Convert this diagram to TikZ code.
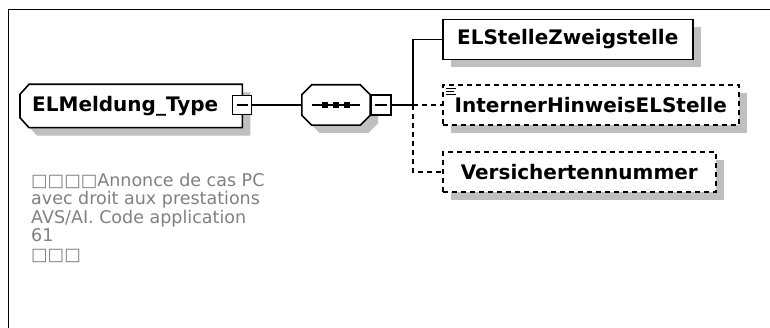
\documentclass[tikz,border=0pt]{standalone}
\usepackage{fontspec}
\setmainfont{DejaVu Sans}
\usetikzlibrary{shadows,positioning,backgrounds}

\tikzset{
    shade8/.style={drop shadow={shadow xshift=8pt, shadow yshift=-8pt, fill=black!25, opacity=1}},
    boxline/.style={draw, line width=1.6pt, fill=white, shade8},
    elem/.style={boxline, inner sep=0pt, minimum height=40pt,
        font=\bfseries\fontsize{20}{22}\selectfont},
    optelem/.style={elem, dash pattern=on 5pt off 4pt},
    minusbox/.style={draw, line width=1.3pt, fill=white, inner sep=0pt, minimum size=#1,
        path picture={\draw[line width=1.3pt] ([xshift=4pt]path picture bounding box.west)
            -- ([xshift=-4pt]path picture bounding box.east);}},
    conn/.style={line width=1.4pt},
    optconn/.style={conn, dash pattern=on 5pt off 4pt},
    desc/.style={text=black!50, align=left, inner sep=0pt,
        font=\fontsize{17.5}{18.5}\selectfont}
}

\begin{document}
\begin{tikzpicture}[x=1pt, y=-1pt]

    \useasboundingbox (0,0) rectangle (770,328);

    % Rahmen
    \draw[line width=1.5pt] (8.5,328) -- (8.5,9.5) -- (770,9.5);

    % Typ
    \node[anchor=west, minimum height=43pt, text width=198pt, inner xsep=12pt, inner ysep=0pt,
        align=left, font=\bfseries\fontsize{20}{22}\selectfont]
        (type) at (20,106) {ELMeldung\_Type};
    \node[minusbox=19pt] (typeminus) at (242,105) {};

    % Sequenz
    \node[minimum width=68pt, minimum height=40pt, inner sep=0pt] (seq) at (336,105) {};
    \draw[line width=1.3pt] ([xshift=-24pt]seq.center) -- ([xshift=24pt]seq.center);
    \foreach \dx in {-11,0,11} {
        \fill ([xshift=\dx pt]seq.center) +(-3pt,-3pt) rectangle +(3pt,3pt);
    }
    \node[minusbox=20pt, anchor=west] (seqminus) at (seq.east) {};

    \begin{scope}[on background layer]
        \draw[boxline] ([yshift=-10pt]type.north west) -- ([xshift=9pt]type.north west)
            -- (type.north east) -- (type.south east) -- ([xshift=9pt]type.south west)
            -- ([yshift=10pt]type.south west) -- cycle;
        \draw[boxline] ([yshift=-10pt]seq.north west) -- ([xshift=10pt]seq.north west)
            -- ([xshift=-10pt]seq.north east) -- ([yshift=-10pt]seq.north east)
            -- ([yshift=10pt]seq.south east) -- ([xshift=-10pt]seq.south east)
            -- ([xshift=10pt]seq.south west) -- ([yshift=10pt]seq.south west) -- cycle;
    \end{scope}

    \coordinate (trunk) at (413,105);

    % Kindelemente
    \node[elem, anchor=west, minimum width=250pt] (stelle) at (442,39.5) {ELStelleZweigstelle};
    \node[optelem, anchor=west, minimum width=296pt] (hinweis) at (442,105) {InternerHinweisELStelle};
    \node[optelem, anchor=west, minimum width=273pt] (versnr) at (442,172) {Versichertennummer};

    % Symbol
    \foreach \dy/\w in {4/10,7/8,10/10} {
        \draw[line width=1pt] ([xshift=4pt, yshift=-\dy pt]hinweis.north west)
            -- ++(\w pt,0);
    }

    % Verbindungen
    \draw[conn] (typeminus.east) -- (seq.west);
    \draw[conn] (seqminus.east) -- (trunk);
    \draw[conn] (trunk) |- (stelle.west);
    \draw[optconn] (trunk) -- (hinweis.west);
    \draw[optconn] (trunk) |- (versnr.west);

    % Beschreibung
    \node[desc, anchor=north west] (doc) at (31,173)
        {□□□□Annonce de cas PC\\avec droit aux prestations\\AVS/AI. Code application\\61\\□□□};

\end{tikzpicture}
\end{document}
